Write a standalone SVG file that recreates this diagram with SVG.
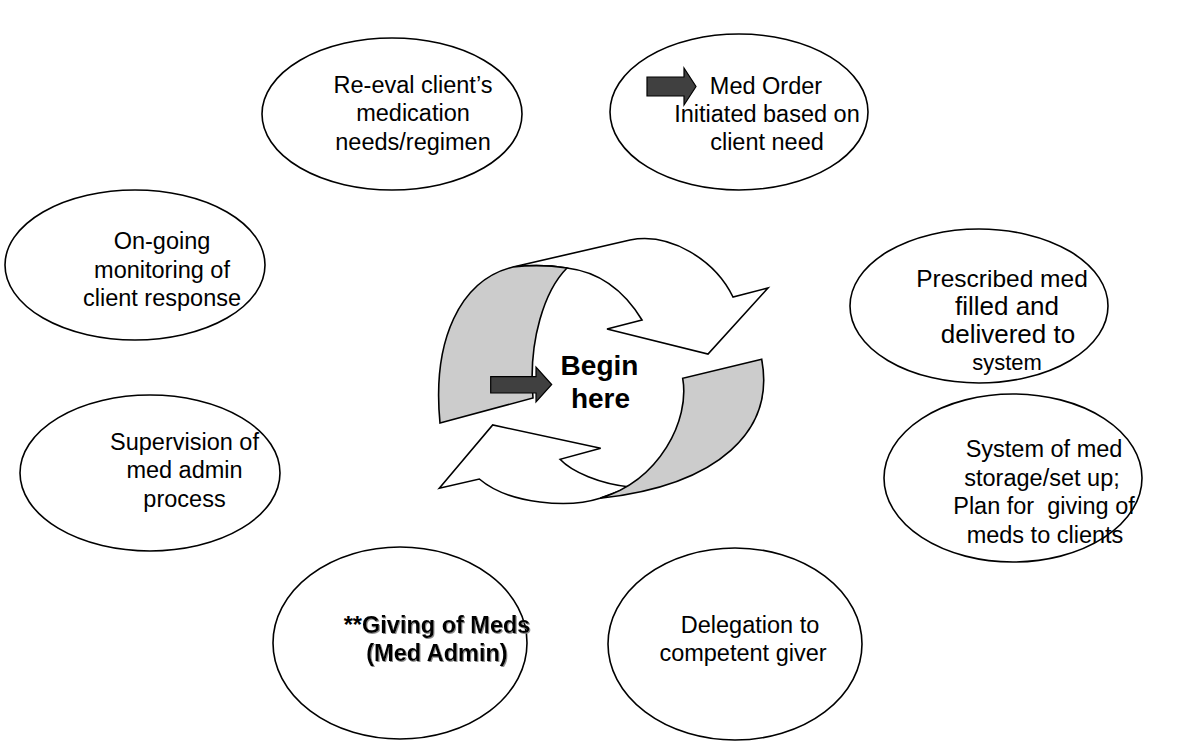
<svg xmlns="http://www.w3.org/2000/svg" width="1192" height="745" viewBox="0 0 1192 745">
<defs>
<filter id="sh" x="-5%" y="-20%" width="110%" height="140%">
<feDropShadow dx="1" dy="1" stdDeviation="0.4" flood-color="#808080" flood-opacity="0.9"/>
</filter>
</defs>
<style>
.node ellipse{fill:#fff;stroke:#000;stroke-width:1.6}
.t{font-family:"Liberation Sans",Arial,sans-serif;font-size:23.5px;fill:#000;text-anchor:middle}
.b{font-weight:bold}
.ring{stroke:#000;stroke-width:1.6;stroke-linejoin:miter}
.face{fill:#fff}
.band{fill:#cccccc}
.blk{fill:#404040;stroke:#000;stroke-width:1.2}
</style>
<rect width="1192" height="745" fill="#fff"/>
<g id="connectors">
<g id="cycle">
<path class="ring face" d="M513,267 L630,240 C670,232 715,260 733,297 L768,288 L708,354 L607,329 L642,320 C625,292 600,272 567,268 C548,265 530,265 513,267 Z"/>
<path class="ring band" d="M440,423 C432,340 460,280 513,267 C530,265 548,265 567,268 C545,290 528,340 533,398 Z"/>
<path class="ring face" d="M439.3,488.3 L492.7,425 L600.7,448.3 L560,459.3 C572,472 600,484 630,487 L600,498.3 C570,508 510,505 479.3,479 Z"/>
<path class="ring band" d="M761.7,359.3 L682.7,378.3 C690,420 660,480 600,498.3 C720,485 775,430 761.7,359.3 Z"/>
</g>
</g>
<g id="begin">
<path class="blk" d="M490.7,376.7 L536,376.7 L536,367 L551.7,384.5 L536,402 L536,393 L490.7,393 Z"/>
<text class="t b" x="599.5" y="375" style="font-size:28px">Begin</text>
<text class="t b" x="600.5" y="408" style="font-size:28px">here</text>
</g>
<g id="n1" class="node">
<ellipse cx="392" cy="114" rx="130" ry="76"/>
<text class="t" x="413" y="93">Re-eval client’s</text>
<text class="t" x="413" y="121">medication</text>
<text class="t" x="413" y="150">needs/regimen</text>
</g>
<g id="n2" class="node">
<ellipse cx="739" cy="112" rx="129" ry="78"/>
<path class="blk" d="M647,77 L684,77 L684,68 L696,86.5 L684,105 L684,96 L647,96 Z"/>
<text class="t" x="766" y="94">Med Order</text>
<text class="t" x="767" y="122">Initiated based on</text>
<text class="t" x="767" y="150">client need</text>
</g>
<g id="n3" class="node">
<ellipse cx="979" cy="306" rx="129" ry="77"/>
<text class="t" x="1002" y="287" style="font-size:24.5px">Prescribed med</text>
<text class="t" x="1007" y="315" style="font-size:26px">filled and</text>
<text class="t" x="1008" y="343" style="font-size:26px">delivered to</text>
<text class="t" x="1007" y="370" style="font-size:22px">system</text>
</g>
<g id="n4" class="node">
<ellipse cx="1013" cy="478" rx="129" ry="84"/>
<text class="t" x="1044" y="457">System of med</text>
<text class="t" x="1042" y="486">storage/set up;</text>
<text class="t" x="1044" y="514" xml:space="preserve">Plan for  giving of</text>
<text class="t" x="1045" y="543">meds to clients</text>
</g>
<g id="n5" class="node">
<ellipse cx="735" cy="644" rx="127" ry="96"/>
<text class="t" x="750" y="633">Delegation to</text>
<text class="t" x="743" y="661">competent giver</text>
</g>
<g id="n6" class="node">
<ellipse cx="400" cy="643" rx="127" ry="96"/>
<text class="t b" x="362" y="633" style="text-anchor:end">**</text>
<text class="t b" x="362" y="633" style="text-anchor:start" filter="url(#sh)">Giving of Meds</text>
<text class="t b" x="437" y="661" filter="url(#sh)">(Med Admin)</text>
</g>
<g id="n7" class="node">
<ellipse cx="150" cy="473" rx="130" ry="78"/>
<text class="t" x="184.5" y="450">Supervision of</text>
<text class="t" x="184.5" y="478">med admin</text>
<text class="t" x="184.5" y="507">process</text>
</g>
<g id="n8" class="node">
<ellipse cx="135" cy="265" rx="130" ry="75"/>
<text class="t" x="162" y="249">On-going</text>
<text class="t" x="162" y="278">monitoring of</text>
<text class="t" x="162" y="306">client response</text>
</g>
</svg>
